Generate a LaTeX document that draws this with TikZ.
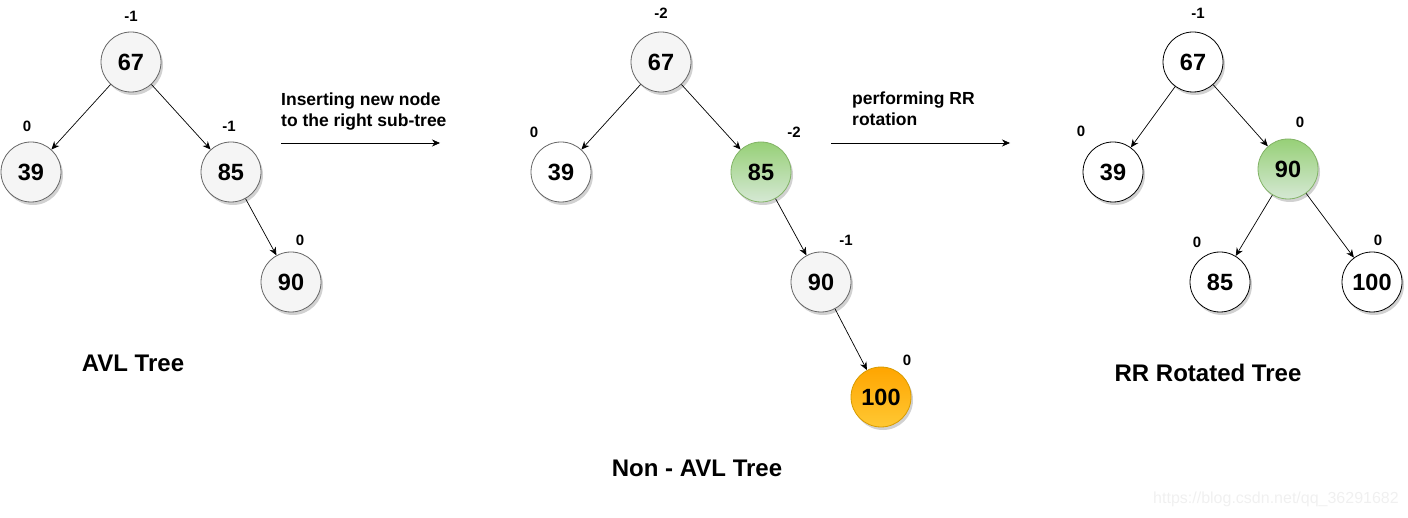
\documentclass[tikz,border=0pt]{standalone}
\usepackage{fontspec}
\setmainfont{Liberation Sans}
\usetikzlibrary{arrows.meta,shadows,shadings}
\definecolor{grayfill}{HTML}{F5F5F5}
\definecolor{grayline}{HTML}{666666}
\definecolor{greentop}{HTML}{97D077}
\definecolor{greenbot}{HTML}{D5E8D4}
\definecolor{greenline}{HTML}{82B366}
\definecolor{orangetop}{HTML}{FFA500}
\definecolor{orangebot}{HTML}{FFC833}
\definecolor{orangeline}{HTML}{D79B00}
\tikzset{
  tnode/.style={circle, minimum size=60pt, inner sep=0pt, draw=grayline, line width=0.8pt,
    font=\fontsize{23.5}{25}\selectfont\bfseries,
    drop shadow={shadow xshift=2pt, shadow yshift=-3pt, opacity=0.18, fill=black}},
  graynode/.style={tnode, fill=grayfill},
  whitenode/.style={tnode, fill=white, draw=black},
  greennode/.style={tnode, draw=greenline, top color=greentop, bottom color=greenbot},
  orangenode/.style={tnode, draw=orangeline, top color=orangetop, bottom color=orangebot},
  bal/.style={font=\fontsize{15}{17}\selectfont\bfseries, inner sep=0pt},
  edge/.style={-{Stealth[length=8pt,width=7pt]}, line width=0.7pt},
  note/.style={font=\fontsize{17.5}{21}\selectfont\bfseries, align=left, anchor=north west, inner sep=0pt},
  title/.style={font=\fontsize{24}{26}\selectfont\bfseries, inner sep=0pt}
}
\begin{document}
\begin{tikzpicture}[x=1pt,y=-1pt]
\useasboundingbox (0,0) rectangle (1408,518);
% Tree 1
\node[graynode] (a67) at (131,62) {67};
\node[graynode] (a39) at (31,172) {39};
\node[graynode] (a85) at (231,172) {85};
\node[graynode] (a90) at (291,282) {90};
\draw[edge] (a67) -- (a39);
\draw[edge] (a67) -- (a85);
\draw[edge] (a85) -- (a90);
\node[bal] (ba67) at (131,16) {-1};
\node[bal] (ba39) at (27,126) {0};
\node[bal] (ba85) at (229,126) {-1};
\node[bal] (ba90) at (300,240) {0};
\node[title] (t1) at (133,363) {AVL Tree};
% Arrow 1
\node[note] (n1) at (281,93) {Inserting new node\\to the right sub-tree};
\coordinate (s1) at (281,143);
\coordinate (e1) at (440,143);
\draw[edge] (s1) -- (e1);
% Tree 2
\node[graynode] (b67) at (661,62) {67};
\node[graynode, fill=white] (b39) at (561,172) {39};
\node[greennode] (b85) at (761,172) {85};
\node[graynode] (b90) at (821,282) {90};
\node[orangenode] (b100) at (881,397) {100};
\draw[edge] (b67) -- (b39);
\draw[edge] (b67) -- (b85);
\draw[edge] (b85) -- (b90);
\draw[edge] (b90) -- (b100);
\node[bal] (bb67) at (661,13) {-2};
\node[bal] (bb39) at (534,132) {0};
\node[bal] (bb85) at (794,132) {-2};
\node[bal] (bb90) at (846,240) {-1};
\node[bal] (bb100) at (907,360) {0};
\node[title] (t2) at (697,468) {Non - AVL Tree};
% Arrow 2
\node[note] (n2) at (852,92) {performing RR\\rotation};
\coordinate (s2) at (831,143);
\coordinate (e2) at (1010,143);
\draw[edge] (s2) -- (e2);
% Tree 3
\node[whitenode] (c67) at (1193,62) {67};
\node[whitenode] (c39) at (1113,172) {39};
\node[greennode] (c90) at (1288,169) {90};
\node[whitenode] (c85) at (1220,282) {85};
\node[whitenode] (c100) at (1372,282) {100};
\draw[edge] (c67) -- (c39);
\draw[edge] (c67) -- (c90);
\draw[edge] (c90) -- (c85);
\draw[edge] (c90) -- (c100);
\node[bal] (bc67) at (1198,13) {-1};
\node[bal] (bc39) at (1081,131) {0};
\node[bal] (bc90) at (1300,122) {0};
\node[bal] (bc85) at (1197,242) {0};
\node[bal] (bc100) at (1378,240) {0};
\node[title] (t3) at (1208,373) {RR Rotated Tree};
% watermark
\node[font=\fontsize{16}{18}\selectfont, text=black!6, inner sep=0pt] (wm) at (1276,499) {https://blog.csdn.net/qq\_36291682};
\end{tikzpicture}
\end{document}
